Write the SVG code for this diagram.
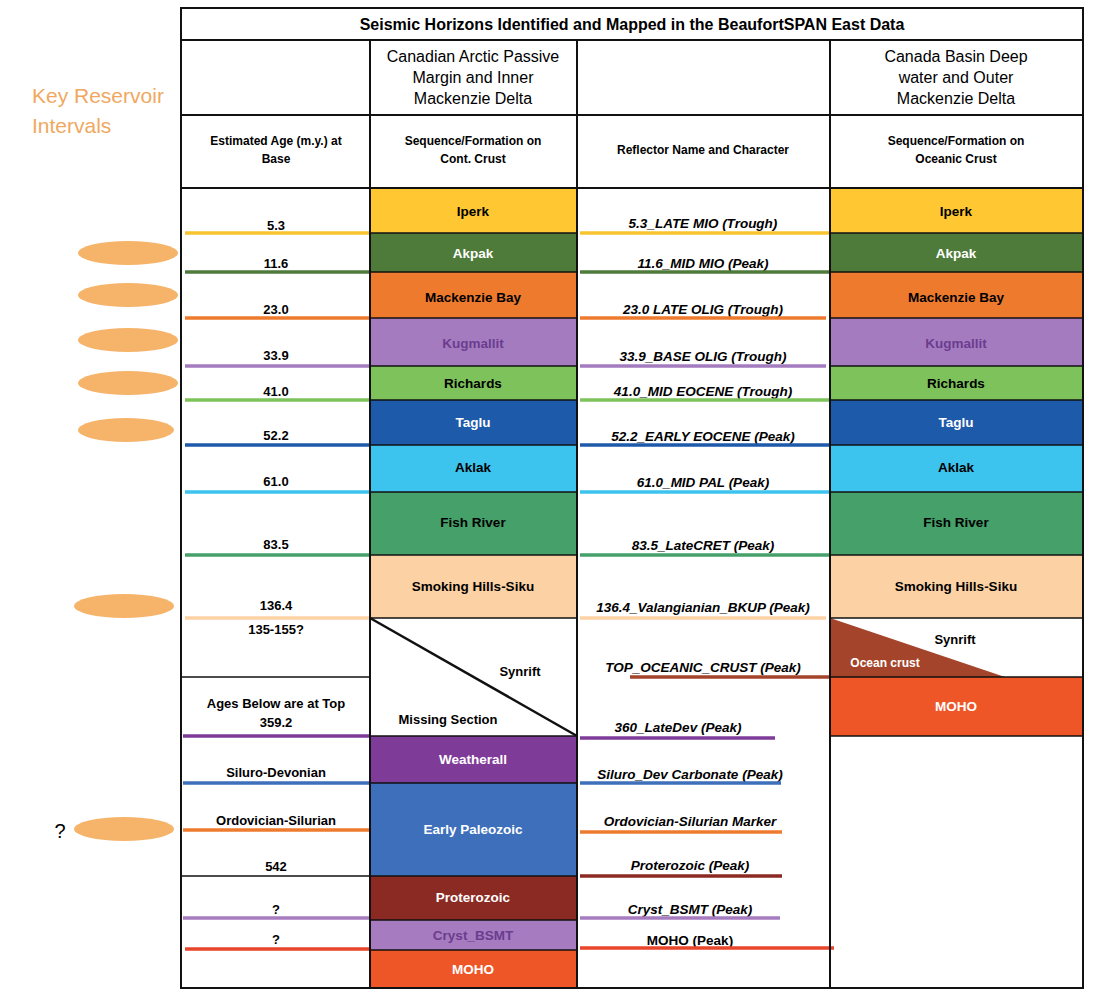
<svg xmlns="http://www.w3.org/2000/svg" width="1100" height="1000" viewBox="0 0 1100 1000">
<style>
text{font-family:"Liberation Sans",Arial,sans-serif;text-anchor:middle}
.b{font-weight:bold;font-size:13px}
.r{font-weight:bold;font-style:italic;font-size:13.5px}
.h{font-size:16px}
.f{font-weight:bold;font-size:13.5px}
.w{fill:#fff}
.bd{stroke:#111;stroke-width:2;fill:none}
.hl{stroke-width:3.5;fill:none}
.res{fill:#F6B46A}
</style>
<rect width="1100" height="1000" fill="#fff"/>
<g id="legend">
<text x="32" y="103" style="text-anchor:start;font-size:21px;fill:#F0A860">Key Reservoir</text>
<text x="32" y="133" style="text-anchor:start;font-size:21px;fill:#F0A860">Intervals</text>
<ellipse class="res" cx="128" cy="253" rx="50" ry="12"/>
<ellipse class="res" cx="128" cy="295" rx="50" ry="12"/>
<ellipse class="res" cx="128" cy="340" rx="50" ry="12"/>
<ellipse class="res" cx="128" cy="383" rx="50" ry="12"/>
<ellipse class="res" cx="126" cy="430" rx="48" ry="12"/>
<ellipse class="res" cx="124" cy="606" rx="50" ry="12"/>
<ellipse class="res" cx="124" cy="829" rx="50" ry="12"/>
<text x="60" y="838" style="font-size:20px">?</text>
</g>
<g id="cont-crust">
<rect x="370" y="188" width="207" height="45" fill="#FFC832"/><text class="f" x="473" y="216">Iperk</text>
<rect x="370" y="233" width="207" height="39" fill="#4E7A3A"/><text class="f w" x="473" y="258">Akpak</text>
<rect x="370" y="272" width="207" height="46" fill="#EE7A2E"/><text class="f" x="473" y="302">Mackenzie Bay</text>
<rect x="370" y="318" width="207" height="48" fill="#A57BC0"/><text class="f" x="473" y="348" fill="#6A3D8F">Kugmallit</text>
<rect x="370" y="366" width="207" height="34" fill="#7DC25A"/><text class="f" x="473" y="388">Richards</text>
<rect x="370" y="400" width="207" height="45" fill="#1E5AAA"/><text class="f w" x="473" y="427">Taglu</text>
<rect x="370" y="445" width="207" height="47" fill="#3CC3EE"/><text class="f" x="473" y="472">Aklak</text>
<rect x="370" y="492" width="207" height="63" fill="#45A06A"/><text class="f" x="473" y="527">Fish River</text>
<rect x="370" y="555" width="207" height="63" fill="#FCD2A4"/><text class="f" x="473" y="591">Smoking Hills-Siku</text>
<line x1="370" y1="618" x2="577" y2="736" stroke="#111" stroke-width="2.5"/>
<text class="b" x="520" y="676">Synrift</text>
<text class="b" x="448" y="724">Missing Section</text>
<rect x="370" y="736" width="207" height="47" fill="#7E3B98"/><text class="f w" x="473" y="764">Weatherall</text>
<rect x="370" y="783" width="207" height="93" fill="#3E6FBA"/><text class="f w" x="473" y="834">Early Paleozoic</text>
<rect x="370" y="876" width="207" height="44" fill="#8B2A22"/><text class="f w" x="473" y="902">Proterozoic</text>
<rect x="370" y="920" width="207" height="30" fill="#A77BC0"/><text class="f" x="473" y="940" fill="#6A3D8F">Cryst_BSMT</text>
<rect x="370" y="950" width="207" height="38" fill="#EE5527"/><text class="f w" x="473" y="974">MOHO</text>
</g>
<g id="ocean-crust">
<rect x="830" y="188" width="253" height="45" fill="#FFC832"/><text class="f" x="956" y="216">Iperk</text>
<rect x="830" y="233" width="253" height="39" fill="#4E7A3A"/><text class="f w" x="956" y="258">Akpak</text>
<rect x="830" y="272" width="253" height="46" fill="#EE7A2E"/><text class="f" x="956" y="302">Mackenzie Bay</text>
<rect x="830" y="318" width="253" height="48" fill="#A57BC0"/><text class="f" x="956" y="348" fill="#6A3D8F">Kugmallit</text>
<rect x="830" y="366" width="253" height="34" fill="#7DC25A"/><text class="f" x="956" y="388">Richards</text>
<rect x="830" y="400" width="253" height="45" fill="#1E5AAA"/><text class="f w" x="956" y="427">Taglu</text>
<rect x="830" y="445" width="253" height="47" fill="#3CC3EE"/><text class="f" x="956" y="472">Aklak</text>
<rect x="830" y="492" width="253" height="63" fill="#45A06A"/><text class="f" x="956" y="527">Fish River</text>
<rect x="830" y="555" width="253" height="63" fill="#FCD2A4"/><text class="f" x="956" y="591">Smoking Hills-Siku</text>
<polygon points="830,618 830,677 1005,677" fill="#A4452B"/>
<text class="b" x="955" y="644">Synrift</text>
<text class="b w" x="885" y="667" style="font-size:12px">Ocean crust</text>
<rect x="830" y="677" width="253" height="59" fill="#EE5527"/><text class="f w" x="956" y="711">MOHO</text>
</g>
<g id="age-col" class="b">
<text x="276" y="230">5.3</text>
<text x="276" y="268">11.6</text>
<text x="276" y="314">23.0</text>
<text x="276" y="360">33.9</text>
<text x="276" y="396">41.0</text>
<text x="276" y="440">52.2</text>
<text x="276" y="486">61.0</text>
<text x="276" y="549">83.5</text>
<text x="276" y="610">136.4</text>
<text x="276" y="634">135-155?</text>
<text x="276" y="708">Ages Below are at  Top</text>
<text x="276" y="727">359.2</text>
<text x="276" y="777">Siluro-Devonian</text>
<text x="276" y="825">Ordovician-Silurian</text>
<text x="276" y="871">542</text>
<text x="276" y="914">?</text>
<text x="276" y="944">?</text>
</g>
<g id="reflectors" class="r">
<text x="703" y="228">5.3_LATE MIO (Trough)</text>
<text x="703" y="268">11.6_MID MIO (Peak)</text>
<text x="703" y="314">23.0  LATE OLIG (Trough)</text>
<text x="703" y="361">33.9_BASE OLIG (Trough)</text>
<text x="703" y="396">41.0_MID EOCENE (Trough)</text>
<text x="703" y="441">52.2_EARLY  EOCENE (Peak)</text>
<text x="703" y="487">61.0_MID PAL (Peak)</text>
<text x="703" y="550">83.5_LateCRET (Peak)</text>
<text x="703" y="612">136.4_Valangianian_BKUP (Peak)</text>
<text x="703" y="672">TOP_OCEANIC_CRUST (Peak)</text>
<text x="678" y="732">360_LateDev (Peak)</text>
<text x="690" y="779">Siluro_Dev   Carbonate (Peak)</text>
<text x="690" y="826">Ordovician-Silurian Marker</text>
<text x="690" y="870">Proterozoic (Peak)</text>
<text x="690" y="914">Cryst_BSMT (Peak)</text>
<text x="690" y="945" style="font-style:normal">MOHO (Peak)</text>
</g>
<g id="connectors">
<g class="hl">
<line x1="185" y1="233" x2="370" y2="233" stroke="#F7C430"/><line x1="580" y1="233" x2="830" y2="233" stroke="#F7C430"/>
<line x1="185" y1="272" x2="370" y2="272" stroke="#4E7A3A"/><line x1="580" y1="272" x2="830" y2="272" stroke="#4E7A3A"/>
<line x1="185" y1="318" x2="370" y2="318" stroke="#EE7A2E"/><line x1="580" y1="318" x2="826" y2="318" stroke="#EE7A2E"/>
<line x1="185" y1="366" x2="370" y2="366" stroke="#A57BC0"/><line x1="580" y1="366" x2="826" y2="366" stroke="#A57BC0"/>
<line x1="185" y1="400" x2="370" y2="400" stroke="#7DC25A"/><line x1="580" y1="400" x2="830" y2="400" stroke="#7DC25A"/>
<line x1="185" y1="445" x2="370" y2="445" stroke="#1E5AAA"/><line x1="580" y1="445" x2="830" y2="445" stroke="#1E5AAA"/>
<line x1="185" y1="492" x2="370" y2="492" stroke="#3CC3EE"/><line x1="580" y1="492" x2="830" y2="492" stroke="#3CC3EE"/>
<line x1="185" y1="555" x2="370" y2="555" stroke="#45A06A"/><line x1="580" y1="555" x2="830" y2="555" stroke="#45A06A"/>
<line x1="185" y1="618" x2="370" y2="618" stroke="#FCD2A4"/><line x1="580" y1="618" x2="826" y2="618" stroke="#FCD2A4"/>
<line x1="630" y1="677" x2="830" y2="677" stroke="#A4452B"/>
<line x1="183" y1="736" x2="370" y2="736" stroke="#7E3B98"/><line x1="580" y1="738" x2="775" y2="738" stroke="#7E3B98"/>
<line x1="183" y1="783" x2="370" y2="783" stroke="#3E6FBA"/><line x1="580" y1="783" x2="781" y2="783" stroke="#3E6FBA"/>
<line x1="183" y1="830" x2="370" y2="830" stroke="#EE7A2E"/><line x1="580" y1="832" x2="782" y2="832" stroke="#EE7A2E"/>
<line x1="580" y1="876" x2="782" y2="876" stroke="#8B2A22"/>
<line x1="183" y1="918" x2="370" y2="918" stroke="#A77BC0"/><line x1="580" y1="918" x2="780" y2="918" stroke="#A77BC0"/>
<line x1="185" y1="949" x2="370" y2="949" stroke="#E8452A"/><line x1="580" y1="948" x2="834" y2="948" stroke="#E8452A"/>
</g>
</g>
<g id="table">
<rect class="bd" x="181" y="8" width="902" height="980"/>
<line class="bd" x1="181" y1="40" x2="1083" y2="40"/>
<line class="bd" x1="181" y1="115" x2="1083" y2="115"/>
<line class="bd" x1="181" y1="188" x2="1083" y2="188"/>
<line class="bd" x1="370" y1="40" x2="370" y2="988"/>
<line class="bd" x1="577" y1="40" x2="577" y2="988"/>
<line class="bd" x1="830" y1="40" x2="830" y2="988"/>
<g stroke="#111" stroke-width="1.5">
<line x1="370" y1="233" x2="577" y2="233"/><line x1="830" y1="233" x2="1083" y2="233"/>
<line x1="370" y1="272" x2="577" y2="272"/><line x1="830" y1="272" x2="1083" y2="272"/>
<line x1="370" y1="318" x2="577" y2="318"/><line x1="830" y1="318" x2="1083" y2="318"/>
<line x1="370" y1="366" x2="577" y2="366"/><line x1="830" y1="366" x2="1083" y2="366"/>
<line x1="370" y1="400" x2="577" y2="400"/><line x1="830" y1="400" x2="1083" y2="400"/>
<line x1="370" y1="445" x2="577" y2="445"/><line x1="830" y1="445" x2="1083" y2="445"/>
<line x1="370" y1="492" x2="577" y2="492"/><line x1="830" y1="492" x2="1083" y2="492"/>
<line x1="370" y1="555" x2="577" y2="555"/><line x1="830" y1="555" x2="1083" y2="555"/>
<line x1="370" y1="618" x2="577" y2="618"/><line x1="830" y1="618" x2="1083" y2="618"/>
<line x1="181" y1="677" x2="370" y2="677"/><line x1="830" y1="677" x2="1083" y2="677"/>
<line x1="370" y1="736" x2="577" y2="736"/><line x1="830" y1="736" x2="1083" y2="736"/>
<line x1="370" y1="783" x2="577" y2="783"/>
<line x1="181" y1="876" x2="577" y2="876"/>
<line x1="370" y1="920" x2="577" y2="920"/>
<line x1="370" y1="950" x2="577" y2="950"/>
</g>
<text x="632" y="30" style="font-weight:bold;font-size:16px">Seismic Horizons Identified and Mapped in the BeaufortSPAN East Data</text>
<text class="h" x="473" y="62">Canadian Arctic Passive</text>
<text class="h" x="473" y="83">Margin and Inner</text>
<text class="h" x="473" y="104">Mackenzie Delta</text>
<text class="h" x="956" y="62">Canada Basin Deep</text>
<text class="h" x="956" y="83">water and Outer</text>
<text class="h" x="956" y="104">Mackenzie Delta</text>
<text class="b" x="276" y="145" style="font-size:12px">Estimated  Age (m.y.) at</text>
<text class="b" x="276" y="163" style="font-size:12px">Base</text>
<text class="b" x="473" y="145" style="font-size:12px">Sequence/Formation  on</text>
<text class="b" x="473" y="163" style="font-size:12px">Cont. Crust</text>
<text class="b" x="703" y="154" style="font-size:12px">Reflector Name and Character</text>
<text class="b" x="956" y="145" style="font-size:12px">Sequence/Formation  on</text>
<text class="b" x="956" y="163" style="font-size:12px">Oceanic Crust</text>
</g>
</svg>
